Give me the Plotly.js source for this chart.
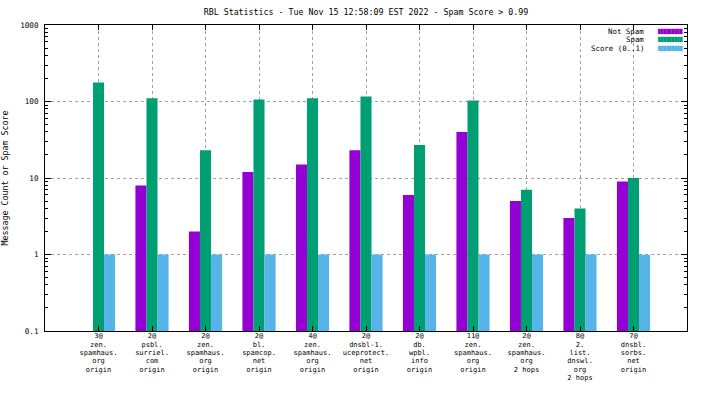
<!DOCTYPE html>
<html>
<head>
<meta charset="utf-8">
<script src="https://cdn.plot.ly/plotly-3.0.1.min.js"></script>
<style>html,body{margin:0;padding:0;background:#fff;}#chart{width:704px;height:396px;}</style>
</head>
<body>
<div id="chart"></div>
<script>
const categories = [
  "3@<br>zen.<br>spamhaus.<br>org<br>origin",
  "2@<br>psbl.<br>surriel.<br>com<br>origin",
  "2@<br>zen.<br>spamhaus.<br>org<br>origin",
  "2@<br>bl.<br>spamcop.<br>net<br>origin",
  "4@<br>zen.<br>spamhaus.<br>org<br>origin",
  "2@<br>dnsbl-1.<br>uceprotect.<br>net<br>origin",
  "2@<br>db.<br>wpbl.<br>info<br>origin",
  "11@<br>zen.<br>spamhaus.<br>org<br>origin",
  "2@<br>zen.<br>spamhaus.<br>org<br>2 hops",
  "8@<br>2.<br>list.<br>dnswl.<br>org<br>2 hops",
  "7@<br>dnsbl.<br>sorbs.<br>net<br>origin"
];
const xIndex = [0,1,2,3,4,5,6,7,8,9,10];
const notSpam = [null, 8, 2, 12, 15, 23, 6, 40, 5, 3, 9];
const spam    = [177, 110, 23, 106, 110, 116, 27, 103, 7, 4, 10];
const score   = [1, 1, 1, 1, 1, 1, 1, 1, 1, 1, 0.99];
const seriesNames = ["Not Spam", "Spam", "Score (0..1)"];
const seriesColors = ["#9400d3", "#009e73", "#56b4e9"];
const yTickVals = [0.1, 1, 10, 100, 1000];
const yTickText = ["0.1", "1", "10", "100", "1000"];

const FONT = "DejaVu Sans Mono, Liberation Mono, monospace";
const FS = 8.3;       // title / axis title
const XFS = 7;        // category labels
const LINE_PX = 8.3;  // line pitch of category labels
const data = [notSpam, spam, score].map((vals, i) => ({
  type: "bar",
  name: seriesNames[i],
  x: xIndex,
  y: vals,
  marker: {color: seriesColors[i], line: {width: 0}},
  hoverinfo: "skip",
  showlegend: false
}));

// Compact gnuplot-style key (text right-aligned, colour sample on the right)
const keyAnnotations = [];
seriesNames.forEach((name, i) => {
  const yy = 1 - (31.5 - 25 + i * 8.3) / 306;
  keyAnnotations.push({
    xref: "paper", yref: "paper", x: 0.936, y: yy,
    xanchor: "right", yanchor: "middle", showarrow: false,
    text: name, font: {family: FONT, size: 7.4, color: "#000"}
  });
  keyAnnotations.push({
    xref: "paper", yref: "paper", x: 0.950, y: yy,
    xanchor: "left", yanchor: "middle", showarrow: false,
    text: "█████████", font: {family: FONT, size: 4.5, color: seriesColors[i]}
  });
});

const layout = {
  width: 704, height: 396,
  margin: {l: 45, r: 17, t: 25, b: 65},
  paper_bgcolor: "#fff", plot_bgcolor: "#fff",
  font: {family: FONT, size: FS, color: "#000"},
  title: {text: "RBL Statistics - Tue Nov 15 12:58:09 EST 2022 - Spam Score > 0.99",
          x: 0.5, xref: "paper", xanchor: "center",
          y: 1 - 12/396, yref: "container", yanchor: "middle",
          font: {family: FONT, size: FS, color: "#000"}},
  barmode: "group",
  bargap: 0.38,
  bargroupgap: 0,
  showlegend: false,
  annotations: keyAnnotations,
  xaxis: {
    range: [-1, 11],
    tickvals: xIndex, ticktext: categories,
    showline: true, linecolor: "#000", linewidth: 1, mirror: "allticks",
    ticks: "inside", ticklen: 5, tickcolor: "#000",
    showgrid: true, gridcolor: "#a0a0a0", griddash: "dot", gridwidth: 1,
    zeroline: false, tickangle: 0,
    tickfont: {family: FONT, size: XFS},
    ticklabelstandoff: -2
  },
  yaxis: {
    type: "log",
    range: [-1, 3],
    tickvals: yTickVals, ticktext: yTickText,
    showline: true, linecolor: "#000", linewidth: 1, mirror: "allticks",
    ticks: "inside", ticklen: 6, tickcolor: "#000",
    minor: {ticks: "inside", ticklen: 3, tickcolor: "#000", dtick: "D1", showgrid: false},
    showgrid: true, gridcolor: "#a0a0a0", griddash: "dot", gridwidth: 1,
    zeroline: false,
    tickfont: {family: FONT, size: 7.6},
    ticklabelstandoff: 4,
    title: {text: "Message Count or Spam Score", font: {family: FONT, size: FS}, standoff: 12}
  }
};

Plotly.newPlot("chart", data, layout, {staticPlot: true, displayModeBar: false}).then(() => {
  // set the line pitch of the multi-line category labels to match the reference
  const emPitch = LINE_PX / XFS;
  document.querySelectorAll("#chart .xtick text tspan.line").forEach(t => {
    const dy = t.getAttribute("dy");
    if (dy) t.setAttribute("dy", (parseFloat(dy) / 1.3 * emPitch) + "em");
  });
});
</script>
</body>
</html>
